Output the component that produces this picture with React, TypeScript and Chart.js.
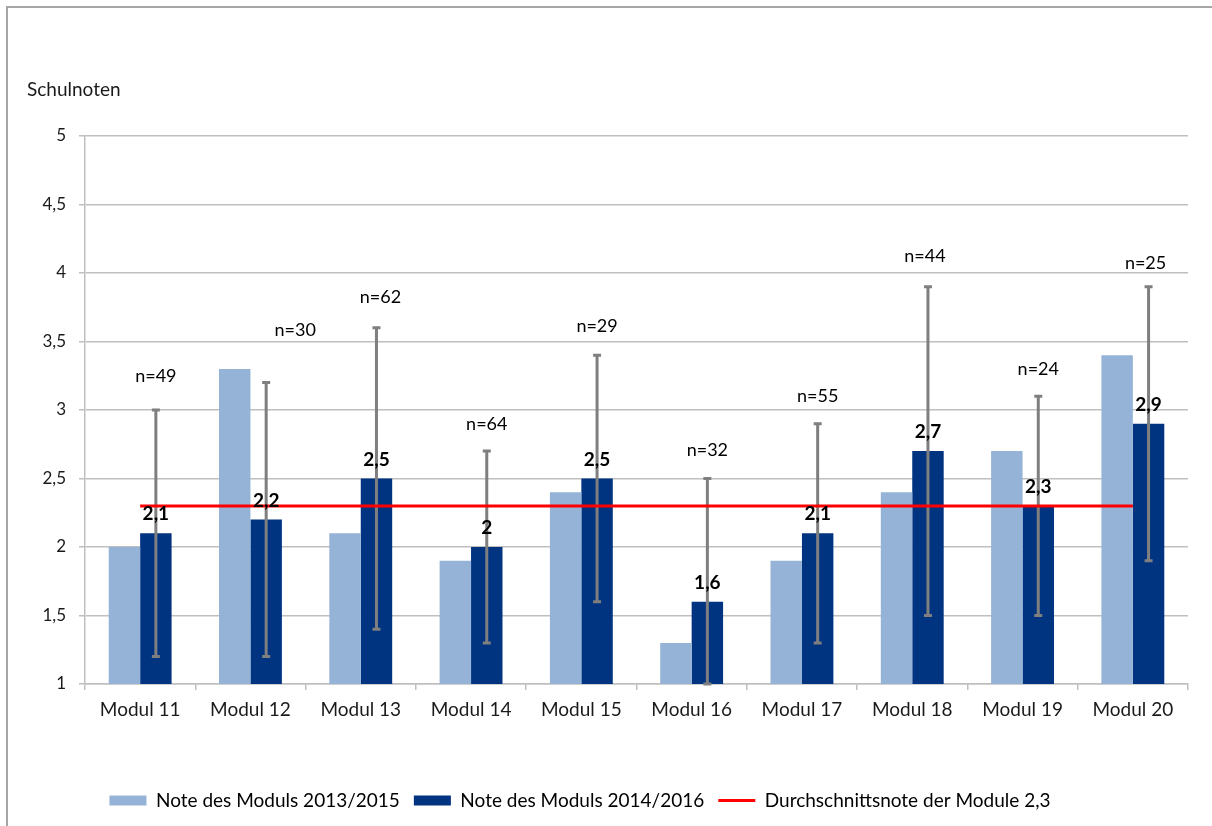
import React, { useEffect, useRef } from "react";
import { Chart, registerables } from "chart.js";

Chart.register(...registerables);

const categories = [
  "Modul 11", "Modul 12", "Modul 13", "Modul 14", "Modul 15",
  "Modul 16", "Modul 17", "Modul 18", "Modul 19", "Modul 20",
];
const grades20132015 = [2.0, 3.3, 2.1, 1.9, 2.4, 1.3, 1.9, 2.4, 2.7, 3.4];
const grades20142016 = [2.1, 2.2, 2.5, 2.0, 2.5, 1.6, 2.1, 2.7, 2.3, 2.9];
const errorLow = [1.2, 1.2, 1.4, 1.3, 1.6, 1.0, 1.3, 1.5, 1.5, 1.9];
const errorHigh = [3.0, 3.2, 3.6, 2.7, 3.4, 2.5, 2.9, 3.9, 3.1, 3.9];
const sampleSizes = [49, 30, 62, 64, 29, 32, 55, 44, 24, 25];
const sampleLabelLevel = [3.25, 3.58, 3.82, 2.9, 3.61, 2.71, 3.1, 4.12, 3.3, 4.07];
const averageGrade = 2.3;
const yTickValues = [1, 1.5, 2, 2.5, 3, 3.5, 4, 4.5, 5];

const seriesLabels = [
  "Note des Moduls 2013/2015",
  "Note des Moduls 2014/2016",
  "Durchschnittsnote der Module 2,3",
];
const axisTitle = "Schulnoten";

const LIGHT = "#95b3d7";
const DARK = "#003380";
const RED = "#ff0000";
const GRID = "#bfbfbf";
const TEXT = "#1a1a1a";
const FONT = "Lato, 'Open Sans', sans-serif";

const fmt = (v: number) => String(v).replace(".", ",");

const errorBarPlugin = {
  id: "errorBars",
  afterDatasetDraw(chart: any, args: any) {
    if (args.index !== 1) return;
    const ctx = chart.ctx;
    const y = chart.scales.y;
    const meta = chart.getDatasetMeta(1);
    ctx.save();
    ctx.strokeStyle = "#7f7f7f";
    ctx.lineWidth = 3;
    meta.data.forEach((bar: any, i: number) => {
      const x = bar.x;
      const yl = y.getPixelForValue(errorLow[i]);
      const yh = y.getPixelForValue(errorHigh[i]);
      ctx.beginPath();
      ctx.moveTo(x, yl);
      ctx.lineTo(x, yh);
      ctx.moveTo(x - 4, yl);
      ctx.lineTo(x + 4, yl);
      ctx.moveTo(x - 4, yh);
      ctx.lineTo(x + 4, yh);
      ctx.stroke();
    });
    ctx.restore();
  },
};

const sampleLabelShift = [0, 29, 4, 0, 0, 0, 0, -3, 0, -3];

const labelPlugin = {
  id: "labels",
  afterLayout(chart: any) {
    if (chart.legend) {
      chart.legend.left -= 18;
      chart.legend.right -= 18;
    }
  },
  afterDatasetsDraw(chart: any) {
    const ctx = chart.ctx;
    const y = chart.scales.y;
    const meta = chart.getDatasetMeta(1);
    ctx.save();
    ctx.fillStyle = "#000";
    ctx.textAlign = "center";
    ctx.font = `bold 19px ${FONT}`;
    ctx.textBaseline = "alphabetic";
    meta.data.forEach((bar: any, i: number) => {
      ctx.fillText(fmt(grades20142016[i]), bar.x, bar.y - 13);
    });
    ctx.font = `18px ${FONT}`;
    ctx.textBaseline = "middle";
    meta.data.forEach((bar: any, i: number) => {
      ctx.fillText(
        "n=" + sampleSizes[i],
        bar.x + sampleLabelShift[i],
        y.getPixelForValue(sampleLabelLevel[i])
      );
    });
    ctx.fillStyle = TEXT;
    ctx.textAlign = "left";
    ctx.font = `19px ${FONT}`;
    ctx.fillText(axisTitle, 27, 90);
    ctx.restore();
  },
};

export default function App() {
  const ref = useRef<HTMLCanvasElement | null>(null);

  useEffect(() => {
    if (!ref.current) return;
    Chart.defaults.font.family = FONT;
    Chart.defaults.color = TEXT;
    const chart = new Chart(ref.current, {
      type: "bar",
      data: {
        labels: categories,
        datasets: [
          {
            type: "bar",
            label: seriesLabels[0],
            data: grades20132015,
            backgroundColor: LIGHT,
            borderWidth: 0,
            order: 2,
          },
          {
            type: "bar",
            label: seriesLabels[1],
            data: grades20142016,
            backgroundColor: DARK,
            borderWidth: 0,
            order: 2,
          },
          {
            type: "line",
            label: seriesLabels[2],
            data: categories.map(() => averageGrade),
            borderColor: RED,
            backgroundColor: RED,
            borderWidth: 3,
            pointRadius: 0,
            order: 0,
          } as any,
        ],
      },
      options: {
        responsive: false,
        animation: false,
        layout: { padding: { left: 8, right: 24, top: 136, bottom: 6 } },
        datasets: {
          bar: { categoryPercentage: 0.57, barPercentage: 1 },
        },
        plugins: {
          title: { display: false },
          tooltip: { enabled: false },
          legend: {
            position: "bottom",
            labels: {
              usePointStyle: true,
              pointStyleWidth: 37,
              boxHeight: 10,
              padding: 14,
              color: TEXT,
              font: { size: 19, family: FONT },
              generateLabels: (c: any) => [
                {
                  text: c.data.datasets[0].label,
                  fillStyle: LIGHT,
                  strokeStyle: LIGHT,
                  lineWidth: 0,
                  pointStyle: "rect",
                  datasetIndex: 0,
                  hidden: false,
                },
                {
                  text: c.data.datasets[1].label,
                  fillStyle: DARK,
                  strokeStyle: DARK,
                  lineWidth: 0,
                  pointStyle: "rect",
                  datasetIndex: 1,
                  hidden: false,
                },
                {
                  text: c.data.datasets[2].label,
                  fillStyle: RED,
                  strokeStyle: RED,
                  lineWidth: 3,
                  pointStyle: "line",
                  datasetIndex: 2,
                  hidden: false,
                },
              ],
            },
          },
        },
        scales: {
          x: {
            grid: {
              offset: true,
              drawOnChartArea: false,
              drawTicks: true,
              tickLength: 6,
              color: GRID,
              lineWidth: 1.5,
            },
            border: { color: GRID, width: 1.5 },
            ticks: { padding: 8, color: TEXT, font: { size: 19 } },
            afterFit: (s: any) => {
              s.height = 93;
            },
          },
          y: {
            min: 1,
            max: 5,
            afterBuildTicks: (s: any) => {
              s.ticks = yTickValues.map((v) => ({ value: v }));
            },
            ticks: {
              padding: 13,
              color: TEXT,
              font: { size: 17 },
              callback: (v: any) => fmt(Number(v)),
            },
            grid: { color: GRID, lineWidth: 1.5, tickLength: 6 },
            border: { color: GRID, width: 1.5 },
            afterFit: (s: any) => {
              s.width = 77;
            },
          },
        },
      } as any,
      plugins: [errorBarPlugin, labelPlugin],
    });
    return () => chart.destroy();
  }, []);

  return (
    <div
      style={{
        position: "fixed",
        left: 0,
        top: 0,
        width: 1212,
        height: 826,
        background: "#fff",
      }}
    >
      <canvas
        ref={ref}
        width={1212}
        height={826}
        style={{ position: "absolute", left: 0, top: 0, width: 1212, height: 826 }}
      />
      <div
        style={{
          position: "absolute",
          left: 6,
          top: 6,
          right: 0,
          bottom: 0,
          borderLeft: "2px solid #a6a6a6",
          borderTop: "2px solid #a6a6a6",
          pointerEvents: "none",
        }}
      />
    </div>
  );
}
